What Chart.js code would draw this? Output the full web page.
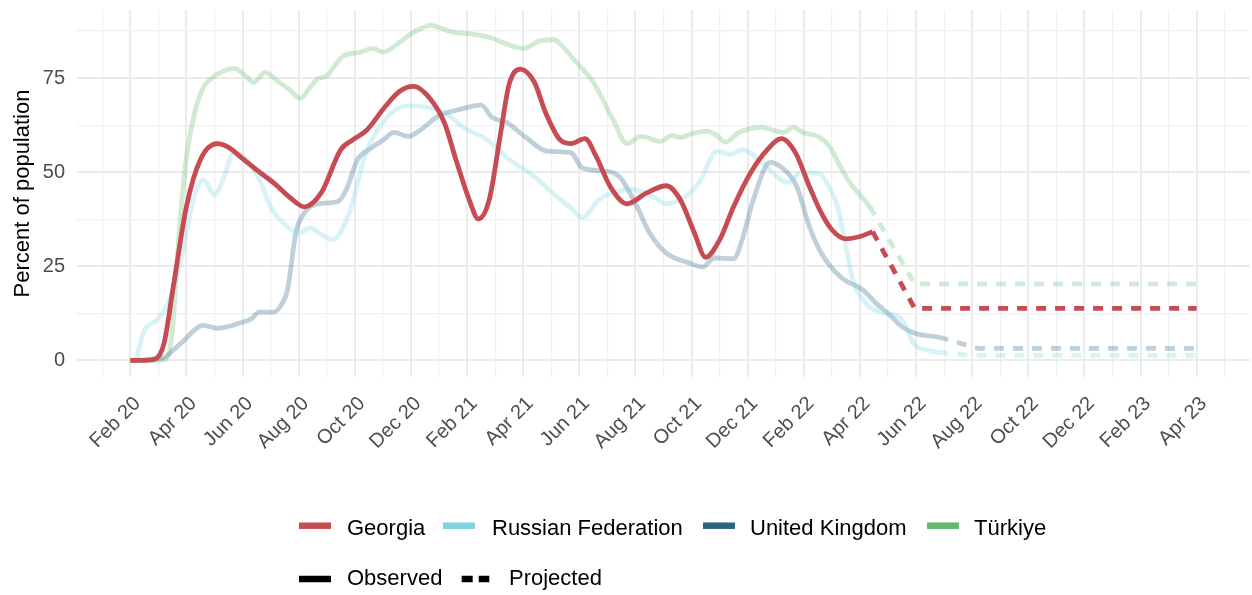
<!DOCTYPE html>
<html>
<head>
<meta charset="utf-8">
<script src="https://cdn.jsdelivr.net/npm/chart.js@4.4.1/dist/chart.umd.min.js"></script>
<style>
  html, body { margin: 0; padding: 0; background: #ffffff; }
  #wrap { width: 1252px; height: 595px; position: relative; }
</style>
</head>
<body>
<div id="wrap"><canvas id="c" width="1252" height="595"></canvas></div>
<script>
// ---------- DATA (x = months since Feb 2020) ----------
const countries = ['Georgia', 'Russian Federation', 'United Kingdom', 'Türkiye'];
const countryColors = ['#C74B53', '#80D4E0', '#2B6584', '#63B96F'];
const lineTypes = ['Observed', 'Projected'];

const tickLabels = ['Feb 20','Apr 20','Jun 20','Aug 20','Oct 20','Dec 20','Feb 21','Apr 21','Jun 21','Aug 21',
                    'Oct 21','Dec 21','Feb 22','Apr 22','Jun 22','Aug 22','Oct 22','Dec 22','Feb 23','Apr 23'];
const yTickLabels = [0, 25, 50, 75];

const georgiaObserved = [[0,0],[0.5,0],[0.9,0.4],[1.2,4.5],[1.55,20.5],[2.0,40.9],[2.5,53.4],[3.1,57.6],[3.5,56.6],
  [4.0,53.6],[4.5,50.6],[5.1,47.2],[5.7,43.2],[6.2,40.8],[6.8,44.5],[7.5,56],[7.95,58.7],[8.4,61],[9.1,67.6],
  [9.6,71.5],[10.1,72.8],[10.7,69.4],[11.2,63],[11.6,53.4],[12.1,42.2],[12.4,37.6],[12.8,43],[13.2,60.6],
  [13.5,73.4],[13.9,77.4],[14.4,73.9],[14.8,65.8],[15.3,58.7],[15.7,57.6],[16.2,58.9],[16.6,54.2],[17.1,46.2],
  [17.7,41.6],[18.4,44.5],[19.1,46.4],[19.6,42.7],[20.1,33.9],[20.5,27.4],[21.0,32],[21.5,40.9],[22.1,49.8],
  [22.7,56],[23.2,58.9],[23.7,55.2],[24.2,46.2],[24.6,39.5],[25.0,34.7],[25.5,32.3],[26.0,32.9],[26.45,34.2]];
const georgiaProjected = [[26.45,34.2],[27.95,13.8],[38,13.8]];

const russiaObserved = [[0.2,0],[0.5,8],[0.95,10.7],[1.4,16],[1.8,26.7],[2.25,42.7],[2.6,48],[3.0,44],[3.3,48],
  [3.7,55.2],[4.15,53.4],[4.6,48],[5.0,40.8],[5.6,35.5],[6.05,33.9],[6.4,35.2],[6.8,33.5],[7.2,32],[7.8,39.2],
  [8.4,55.2],[9.0,63.2],[9.6,67.2],[10.0,67.6],[10.6,67.2],[11.2,65.8],[11.9,61.8],[12.7,58.7],[13.5,53.4],
  [14.4,48.8],[15.2,43.5],[15.7,40.5],[16.1,37.9],[16.7,42.7],[17.3,44.8],[17.9,45.4],[18.6,43.6],[19.1,41.6],
  [19.8,43.6],[20.3,47.6],[20.9,55.6],[21.4,54.7],[21.8,56],[22.5,52.6],[23.1,48.5],[23.4,47.2],[23.9,49.9],
  [24.6,49.4],[24.9,46],[25.2,40.9],[25.5,30.2],[25.75,21.4],[26.2,15.2],[26.9,12.5],[27.4,11.5],[27.65,8.9],
  [27.9,4.6],[28.4,2.7],[28.8,2.1]];
const russiaProjected = [[28.8,2.1],[30.1,1.3],[38,1.3]];

const ukObserved = [[0,0],[1.1,0.5],[1.8,4.5],[2.6,9.3],[3.1,8.5],[3.9,9.9],[4.3,11],[4.6,12.8],[5.1,12.8],
  [5.4,15],[5.6,18.7],[5.9,33.9],[6.2,39.2],[6.7,41.6],[7.4,42.2],[7.7,45.4],[8.1,53.4],[8.5,56],[9.0,58.5],
  [9.4,60.6],[9.9,59.5],[10.3,61],[11.0,65],[11.75,66.7],[12.5,67.8],[12.9,64.5],[13.4,63.3],[14.1,59.2],
  [14.85,55.6],[15.7,55.2],[16.1,51.2],[17.0,50.2],[17.45,48.6],[18.05,40.9],[18.5,33.9],[19.1,28.5],
  [19.9,25.9],[20.4,24.8],[20.8,27.2],[21.5,27],[21.8,32],[22.2,42.7],[22.8,52.6],[23.3,50.7],[23.75,46.2],
  [24.2,35.5],[24.6,28.8],[25.3,22.2],[26.1,18.7],[26.6,15],[27.0,12.5],[27.5,8.9],[28.0,7.1],[28.8,6.2]];
const ukProjected = [[28.8,6.2],[30.2,3.2],[38,3.2]];

const turkiyeObserved = [[0,0],[0.5,0],[1.0,0],[1.3,0.5],[1.5,8],[1.75,35],[2.0,54],[2.3,66],[2.6,72.5],[3.0,75.5],
  [3.3,76.8],[3.7,77.6],[4.0,76.3],[4.4,73.9],[4.8,76.5],[5.3,73.9],[5.7,71.8],[6.05,69.6],[6.4,72.5],[6.65,74.7],
  [7.0,75.6],[7.3,78.5],[7.6,80.9],[8.2,81.9],[8.65,82.9],[9.0,81.9],[9.6,84.5],[10.0,86.8],[10.4,88.3],[10.7,89.1],
  [11.1,88.2],[11.5,87.2],[12.2,86.7],[12.9,85.6],[13.4,84.1],[14.0,82.9],[14.6,84.9],[15.1,85.2],[15.4,83.5],
  [15.8,80],[16.5,73.9],[17.2,64],[17.7,57.6],[18.2,59.5],[18.9,58.2],[19.3,59.8],[19.6,59.2],[20.0,60.2],
  [20.5,60.9],[20.9,59.8],[21.2,58],[21.7,60.6],[22.5,61.9],[23.0,61],[23.3,60.6],[23.6,61.9],[24.0,60.5],
  [24.5,59.5],[24.9,57],[25.3,51.5],[25.6,47.6],[26.0,44],[26.35,40.9]];
const turkiyeProjected = [[26.35,40.9],[27.95,20.3],[38,20.3]];

// ---------- helpers ----------
function toPoints(arr) { return arr.map(p => ({x: p[0], y: p[1]})); }
function hexA(hex, a) {
  const r = parseInt(hex.slice(1,3),16), g = parseInt(hex.slice(3,5),16), b = parseInt(hex.slice(5,7),16);
  return 'rgba(' + r + ',' + g + ',' + b + ',' + a + ')';
}
const FONT = '"Liberation Sans", Arial, Helvetica, sans-serif';
Chart.defaults.font.family = FONT;

const seriesObs = [georgiaObserved, russiaObserved, ukObserved, turkiyeObserved];
const seriesProj = [georgiaProjected, russiaProjected, ukProjected, turkiyeProjected];
const alphas = [1, 0.3, 0.3, 0.3];
const LW = 4.8;

const datasets = [];
// Georgia first so it is drawn on top
for (let i = 0; i < countries.length; i++) {
  const col = hexA(countryColors[i], alphas[i]);
  datasets.push({
    label: countries[i] + ' ' + lineTypes[0],
    data: toPoints(seriesObs[i]),
    borderColor: col, backgroundColor: col, borderWidth: LW,
    pointRadius: 0, cubicInterpolationMode: 'monotone', tension: 0.4,
    borderCapStyle: 'butt', borderJoinStyle: 'round', fill: false
  });
  datasets.push({
    label: countries[i] + ' ' + lineTypes[1],
    data: toPoints(seriesProj[i]),
    borderColor: col, backgroundColor: col, borderWidth: LW,
    pointRadius: 0, tension: 0, borderDash: [10, 9],
    borderCapStyle: 'butt', borderJoinStyle: 'miter', fill: false
  });
}

// ---------- custom legend ----------
const legendPlugin = {
  id: 'customLegend',
  afterDraw(chart) {
    const ctx = chart.ctx;
    ctx.save();
    ctx.font = '22px ' + FONT;
    ctx.textBaseline = 'alphabetic';
    ctx.textAlign = 'left';
    const keyX = [299, 443, 703, 927];
    const textX = [347, 492, 750, 974];
    for (let i = 0; i < countries.length; i++) {
      ctx.strokeStyle = countryColors[i];
      ctx.lineWidth = 6.5;
      ctx.lineCap = 'butt';
      ctx.beginPath(); ctx.moveTo(keyX[i], 525.7); ctx.lineTo(keyX[i] + 32, 525.7); ctx.stroke();
      ctx.fillStyle = '#000000';
      ctx.fillText(countries[i], textX[i], 535.3);
    }
    // line types
    ctx.strokeStyle = '#000000';
    ctx.lineWidth = 6.5;
    ctx.beginPath(); ctx.moveTo(299, 579); ctx.lineTo(331, 579); ctx.stroke();
    ctx.fillText(lineTypes[0], 347, 585.3);
    ctx.setLineDash([11, 6]);
    ctx.beginPath(); ctx.moveTo(461.7, 579); ctx.lineTo(489.3, 579); ctx.stroke();
    ctx.setLineDash([]);
    ctx.fillText(lineTypes[1], 509, 585.3);
    ctx.restore();
  }
};

new Chart(document.getElementById('c'), {
  type: 'line',
  data: { datasets },
  options: {
    responsive: false,
    animation: false,
    devicePixelRatio: 1,
    layout: { padding: { top: 10, right: 2, bottom: 0, left: 0 } },
    plugins: { legend: { display: false }, tooltip: { enabled: false } },
    scales: {
      x: {
        type: 'linear',
        min: -1.9, max: 39.9,
        border: { display: false },
        grid: {
          color: ctx => (ctx.tick && ctx.tick.value % 2 === 0) ? '#EBEBEB' : '#F0F0F0',
          lineWidth: ctx => (ctx.tick && ctx.tick.value % 2 === 0) ? 2 : 1.2,
          drawTicks: false
        },
        afterBuildTicks: scale => {
          const t = [];
          for (let v = -1; v <= 39; v++) t.push({ value: v });
          scale.ticks = t;
        },
        afterFit: scale => { scale.height = 218; scale.paddingLeft = 0; scale.paddingRight = 0; },
        ticks: {
          autoSkip: false, maxRotation: 45, minRotation: 45, padding: 13,
          color: '#4D4D4D', font: { size: 20, family: FONT, lineHeight: 0.5 },
          // a leading empty line nudges each rotated label down-right, as in the reference
          callback: v => (Number.isInteger(v) && v >= 0 && v % 2 === 0 && v / 2 < tickLabels.length) ? ['', tickLabels[v / 2]] : ''
        }
      },
      y: {
        type: 'linear',
        min: -4.43, max: 93.1,
        border: { display: false },
        grid: {
          color: ctx => (ctx.tick && ctx.tick.value % 25 === 0) ? '#EBEBEB' : '#F0F0F0',
          lineWidth: ctx => (ctx.tick && ctx.tick.value % 25 === 0) ? 2 : 1.2,
          drawTicks: false
        },
        afterBuildTicks: scale => {
          const t = [];
          for (let v = 0; v <= 87.5; v += 12.5) t.push({ value: v });
          scale.ticks = t;
        },
        afterFit: scale => { scale.width = 77; scale.paddingTop = 0; scale.paddingBottom = 0; },
        ticks: {
          padding: 12, color: '#4D4D4D', font: { size: 20, family: FONT },
          callback: v => yTickLabels.includes(v) ? String(v) : ''
        },
        title: {
          display: true, text: 'Percent of population', color: '#000000',
          font: { size: 22, family: FONT }, padding: { top: 10, bottom: 0 }
        }
      }
    }
  },
  plugins: [legendPlugin]
});
</script>
</body>
</html>
